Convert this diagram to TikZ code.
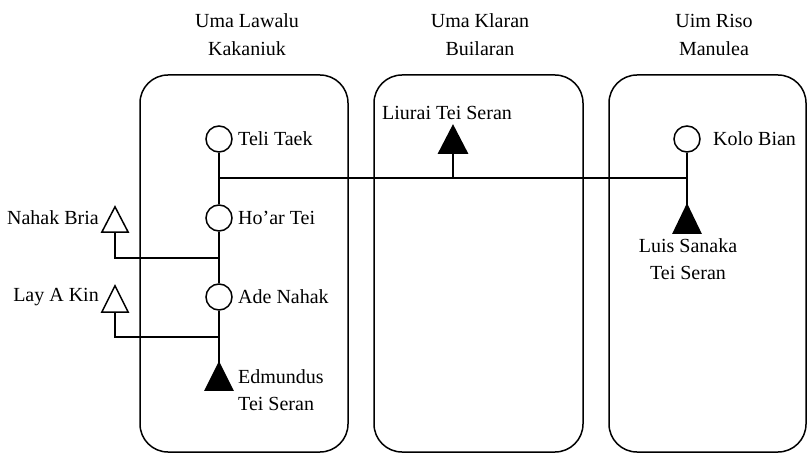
\documentclass[tikz,border=0pt]{standalone}
\usepackage{fontspec}
\setmainfont{Liberation Serif}
\begin{document}
\begin{tikzpicture}[x=1pt,y=-1pt,
  every node/.style={font=\fontsize{20}{28}\selectfont},
  lw/.style={line width=1.5pt},
  house/.style={lw, draw, rounded corners=28pt, minimum height=377pt, inner sep=0pt},
  female/.style={lw, draw, circle, minimum size=26pt, inner sep=0pt},
  male/.style={minimum width=27pt, minimum height=27pt, inner sep=0pt},
  pname/.style={inner sep=0pt},
  htitle/.style={inner sep=0pt, align=center}]
\useasboundingbox (0,0) rectangle (810,454);

% house groups
\node[house, minimum width=208pt] (h1) at (244,263.5) {};
\node[house, minimum width=209pt] (h2) at (478.5,263.5) {};
\node[house, minimum width=197pt] (h3) at (707.5,263.5) {};
\node[htitle] (t1) at (247,35) {Uma Lawalu\\Kakaniuk};
\node[htitle] (t2) at (480,35) {Uma Klaran\\Builaran};
\node[htitle] (t3) at (714,35) {Uim Riso\\Manulea};

% persons
\node[female] (tt) at (219,139) {};
\node[female] (ht) at (219,218) {};
\node[female] (an) at (219,297) {};
\node[female] (kb) at (687,139) {};
\node[male] (ed) at (219,376.5) {};
\node[male, minimum width=28pt] (lts) at (453,139.5) {};
\node[male, minimum height=28pt] (ls) at (687,219) {};
\node[male, minimum width=26pt, minimum height=25pt] (nb) at (115,219.5) {};
\node[male, minimum width=26pt, minimum height=26pt] (lak) at (115,299) {};

\foreach \m in {ed,lts,ls}
  \filldraw[lw, line join=miter] (\m.south west) -- (\m.south east) -- (\m.north) -- cycle;
\foreach \m in {nb,lak}
  \draw[lw, line join=miter] (\m.south west) -- (\m.south east) -- (\m.north) -- cycle;

% names
\node[pname, anchor=west] (ttl) at (238,139) {Teli Taek};
\node[pname, anchor=west] (htl) at (238,218) {Ho’ar Tei};
\node[pname, anchor=west] (anl) at (238,297) {Ade Nahak};
\node[pname, anchor=west] (kbl) at (713,139) {Kolo Bian};
\node[pname, anchor=east] (nbl) at (99,218) {Nahak Bria};
\node[pname, anchor=east] (lakl) at (99,297) {Lay A Kin};
\node[pname, anchor=west] (ltsl) at (382,113) {Liurai Tei Seran};
\node[pname, anchor=west, align=left, font=\fontsize{20}{27}\selectfont] (edl) at (238,390) {Edmundus\\Tei Seran};
\node[pname, align=center, font=\fontsize{20}{27}\selectfont] (lsl) at (688,259) {Luis Sanaka\\Tei Seran};

% junction points
\coordinate (m1) at (219,178);
\coordinate (m2) at (687,178);
\coordinate (j1) at (219,258);
\coordinate (j2) at (219,337);

% lines of descent and marriage
\draw[lw] (tt) -- (ht);
\draw[lw] (ht) -- (an);
\draw[lw] (an) -- (ed.north);
\draw[lw] (m1) -- (m2);
\draw[lw] (lts.south) -- (lts.south |- m1);
\draw[lw] (kb) -- (ls.north);
\draw[lw] (nb.south) |- (j1);
\draw[lw] (lak.south) |- (j2);
\end{tikzpicture}
\end{document}
